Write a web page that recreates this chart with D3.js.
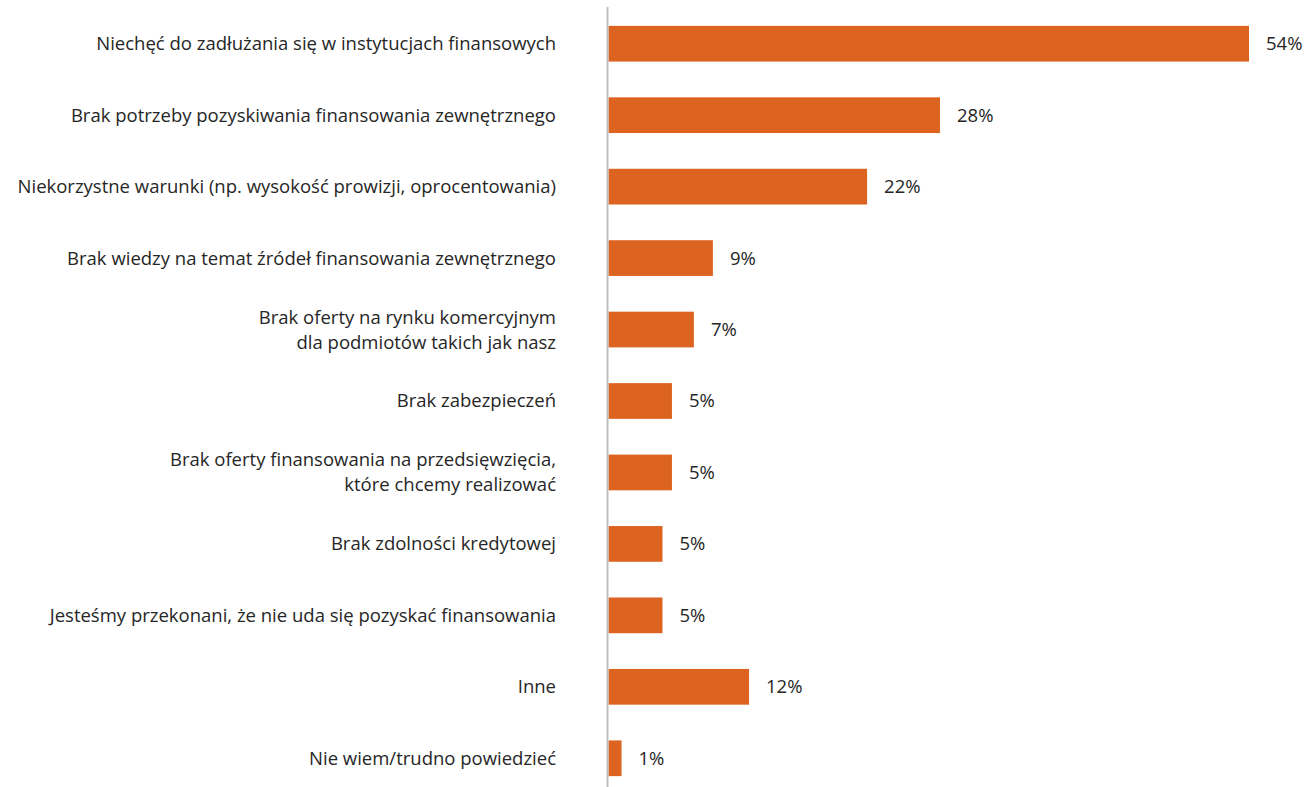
<!DOCTYPE html>
<html>
<head>
<meta charset="utf-8">
<script src="https://cdn.jsdelivr.net/npm/d3@7"></script>
<style>
  html, body { margin: 0; padding: 0; background: #ffffff; }
  svg { display: block; }
  text { font-family: "Open Sans", "Noto Sans", sans-serif; fill: #262626; }
</style>
</head>
<body>
<svg id="chart" width="1307" height="787"></svg>
<script>
// Reasons for not using external financing (share of respondents, %)
const categories = [
  ["Niechęć do zadłużania się w instytucjach finansowych"],
  ["Brak potrzeby pozyskiwania finansowania zewnętrznego"],
  ["Niekorzystne warunki (np. wysokość prowizji, oprocentowania)"],
  ["Brak wiedzy na temat źródeł finansowania zewnętrznego"],
  ["Brak oferty na rynku komercyjnym", "dla podmiotów takich jak nasz"],
  ["Brak zabezpieczeń"],
  ["Brak oferty finansowania na przedsięwzięcia,", "które chcemy realizować"],
  ["Brak zdolności kredytowej"],
  ["Jesteśmy przekonani, że nie uda się pozyskać finansowania"],
  ["Inne"],
  ["Nie wiem/trudno powiedzieć"]
];
const values = [54.0, 27.95, 21.8, 8.8, 7.2, 5.35, 5.35, 4.55, 4.55, 11.85, 1.1];

const width = 1307, height = 787;
const axisX = 608.5;
const fontSize = 18.5;

const svg = d3.select("#chart");

const y = d3.scaleBand()
  .domain(d3.range(categories.length))
  .range([8, 794])
  .paddingInner(0.5)
  .paddingOuter(0.25);

const x = d3.scaleLinear()
  .domain([0, 54])
  .range([axisX, 1249]);

// bars
svg.append("g").selectAll("rect")
  .data(values)
  .join("rect")
  .attr("x", x(0))
  .attr("y", (d, i) => y(i))
  .attr("width", d => x(d) - x(0))
  .attr("height", y.bandwidth())
  .attr("fill", "#dd6420");

// value labels
svg.append("g").selectAll("text")
  .data(values)
  .join("text")
  .attr("x", d => x(d) + 17)
  .attr("y", (d, i) => y(i) + y.bandwidth() / 2)
  .attr("dy", "0.35em")
  .attr("font-size", fontSize)
  .text(d => Math.round(d) + "%");

// category labels (right-aligned, left of the axis)
const lineGap = 25;
const catG = svg.append("g");
categories.forEach((lines, i) => {
  const cy = y(i) + y.bandwidth() / 2;
  const t = catG.append("text")
    .attr("x", 556)
    .attr("text-anchor", "end")
    .attr("font-size", fontSize);
  lines.forEach((ln, j) => {
    t.append("tspan")
      .attr("x", 556)
      .attr("y", cy + (j - (lines.length - 1) / 2) * lineGap)
      .attr("dy", "0.35em")
      .text(ln);
  });
});

// vertical axis line
svg.append("line")
  .attr("x1", 607.5).attr("x2", 607.5)
  .attr("y1", 7).attr("y2", height)
  .attr("stroke", "#bfbfbf")
  .attr("stroke-width", 2);
</script>
</body>
</html>
